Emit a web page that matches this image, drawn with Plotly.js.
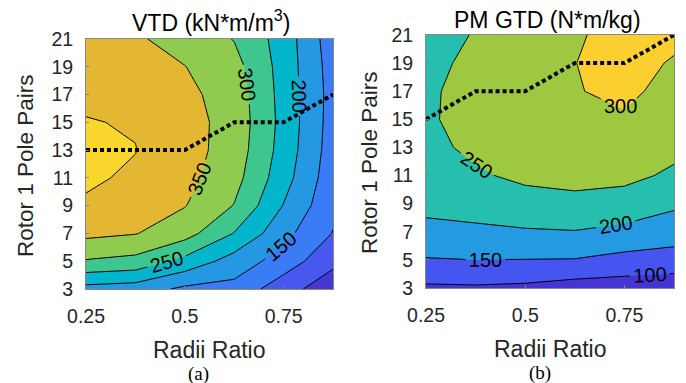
<!DOCTYPE html>
<html>
<head>
<meta charset="utf-8">
<script src="https://cdn.plot.ly/plotly-3.0.1.min.js"></script>
<style>
  html, body { margin: 0; padding: 0; background: #ffffff; }
  #chart { width: 686px; height: 383px; }
</style>
</head>
<body>
<div id="chart"></div>
<script>
// ---- Data ----
var radiiRatio = [0.25, 0.375, 0.5, 0.625, 0.75, 0.875];
var polePairs = [3, 5, 7, 9, 11, 13, 15, 17, 19, 21];

// VTD (kN*m/m^3): one row per pole-pair value, columns follow radiiRatio
var vtdValues = [
  [183, 175, 140, 135,  70,  20],
  [296, 285, 235, 178, 128,  62],
  [362, 352, 320, 248, 165,  98],
  [395, 380, 352, 298, 198, 112],
  [406, 394, 365, 318, 220, 120],
  [412, 401, 370, 328, 230, 126],
  [402, 397, 368, 332, 234, 129],
  [392, 385, 362, 328, 232, 131],
  [384, 372, 351, 318, 230, 128],
  [378, 356, 332, 298, 228, 122]
];
// PM GTD (N*m/kg)
var gtdValues = [
  [ 92,  94,  90,  78,  75,  70],
  [147, 150, 149, 148, 135, 128],
  [185, 190, 195, 198, 188, 175],
  [215, 222, 235, 240, 230, 208],
  [232, 245, 258, 262, 262, 242],
  [240, 258, 272, 280, 282, 262],
  [244, 266, 280, 292, 296, 278],
  [242, 268, 285, 298, 308, 288],
  [236, 262, 282, 299.5, 312, 297],
  [230, 253, 275, 298, 306, 308]
];
// pole pairs of maximum value at each radii ratio (dotted line)
var vtdBestPP = [13, 13, 13, 15, 15, 17];
var gtdBestPP = [15, 17, 17, 19, 19, 21];

var vtdLevels = {start: 50, end: 400, size: 50};
var gtdLevels = {start: 100, end: 300, size: 50};
var vtdColors = ['#4538d4', '#4658ee', '#3a7cf6', '#2598e4', '#03b6cb', '#3ec68f', '#8ecb4e', '#e3b731', '#f9d62b'];
var gtdColors = ['#4535d6', '#4555f0', '#249ae3', '#26bfad', '#9fc841', '#fbcf2f'];

var titleA = 'VTD (kN*m/m<sup>3</sup>)';
var titleB = 'PM GTD (N*m/kg)';
var xTitle = 'Radii Ratio';
var yTitle = 'Rotor 1 Pole Pairs';
var xTickVals = [0.25, 0.5, 0.75];
var xTickText = ['0.25', '0.5', '0.75'];
var yTickVals = [3, 5, 7, 9, 11, 13, 15, 17, 19, 21];

// ---- Helpers ----
function discreteScale(cols) {
  var n = cols.length - 1;
  return cols.map(function (c, i) { return [i / n, c]; });
}
var FONT = 'Liberation Sans, Arial, sans-serif';
var TXT = '#262626';

function contourTrace(z, lv, cols, xa, ya) {
  return {
    type: 'contour', x: radiiRatio, y: polePairs, z: z,
    xaxis: xa, yaxis: ya,
    autocontour: false,
    contours: {start: lv.start, end: lv.end, size: lv.size, coloring: 'fill',
      showlabels: true, labelfont: {family: FONT, size: 20, color: '#000'}},
    colorscale: discreteScale(cols),
    showscale: false,
    line: {color: '#000', width: 1, smoothing: 0},
    hoverinfo: 'skip'
  };
}
function dotTrace(y, xa, ya) {
  return {type: 'scatter', mode: 'lines', x: radiiRatio, y: y, xaxis: xa, yaxis: ya,
    line: {color: '#000', width: 4, dash: '4px,3px'}, hoverinfo: 'skip', showlegend: false};
}

var data = [
  contourTrace(vtdValues, vtdLevels, vtdColors, 'x', 'y'),
  dotTrace(vtdBestPP, 'x', 'y'),
  contourTrace(gtdValues, gtdLevels, gtdColors, 'x2', 'y2'),
  dotTrace(gtdBestPP, 'x2', 'y2')
];

function xAxis(domain, anchor) {
  return {domain: domain, anchor: anchor, range: [0.25, 0.875], tickvals: xTickVals, ticktext: xTickText,
    ticks: 'inside', ticklen: 3, tickcolor: '#808080', ticklabelstandoff: 10,
    showgrid: false, zeroline: false, showline: true, mirror: true, linecolor: '#888', linewidth: 1,
    tickfont: {family: FONT, size: 19.5, color: TXT}, fixedrange: true};
}
function yAxis(domain, anchor) {
  return {domain: domain, anchor: anchor, range: [3, 21], tickvals: yTickVals,
    ticks: 'inside', ticklen: 3, tickcolor: '#808080', ticklabelstandoff: 8,
    showgrid: false, zeroline: false, showline: true, mirror: true, linecolor: '#888', linewidth: 1,
    tickfont: {family: FONT, size: 19.5, color: TXT}, fixedrange: true};
}

var W = 686, H = 383;
function px(x) { return x / W; }
function py(y) { return (H - y) / H; }
function ann(text, x, y, size, angle, family, color) {
  return {text: text, x: px(x), y: py(y), xref: 'paper', yref: 'paper', showarrow: false,
    xanchor: 'center', yanchor: 'middle', textangle: angle || 0,
    font: {family: family || FONT, size: size, color: color || TXT}};
}

var layout = {
  width: W, height: H,
  margin: {l: 0, r: 0, t: 0, b: 0},
  paper_bgcolor: '#ffffff', plot_bgcolor: '#ffffff',
  showlegend: false,
  xaxis: xAxis([px(86), px(333)], 'y'),
  yaxis: yAxis([py(289), py(39)], 'x'),
  xaxis2: xAxis([px(426), px(674)], 'y2'),
  yaxis2: yAxis([py(288), py(35)], 'x2'),
  annotations: [
    ann(titleA, 211, 21, 23, 0, FONT, '#000'),
    ann(titleB, 547, 20, 23, 0, FONT, '#000'),
    ann(yTitle, 26, 166, 22.5, -90),
    ann(yTitle, 369, 162, 22.5, -90),
    ann(xTitle, 209, 350, 23),
    ann(xTitle, 550, 349, 23),
    ann('(a)', 198, 374, 19, 0, 'Liberation Serif, Times New Roman, serif', '#000'),
    ann('(b)', 540, 373, 19, 0, 'Liberation Serif, Times New Roman, serif', '#000')
  ]
};

Plotly.newPlot('chart', data, layout, {displayModeBar: false, staticPlot: true});
</script>
</body>
</html>
